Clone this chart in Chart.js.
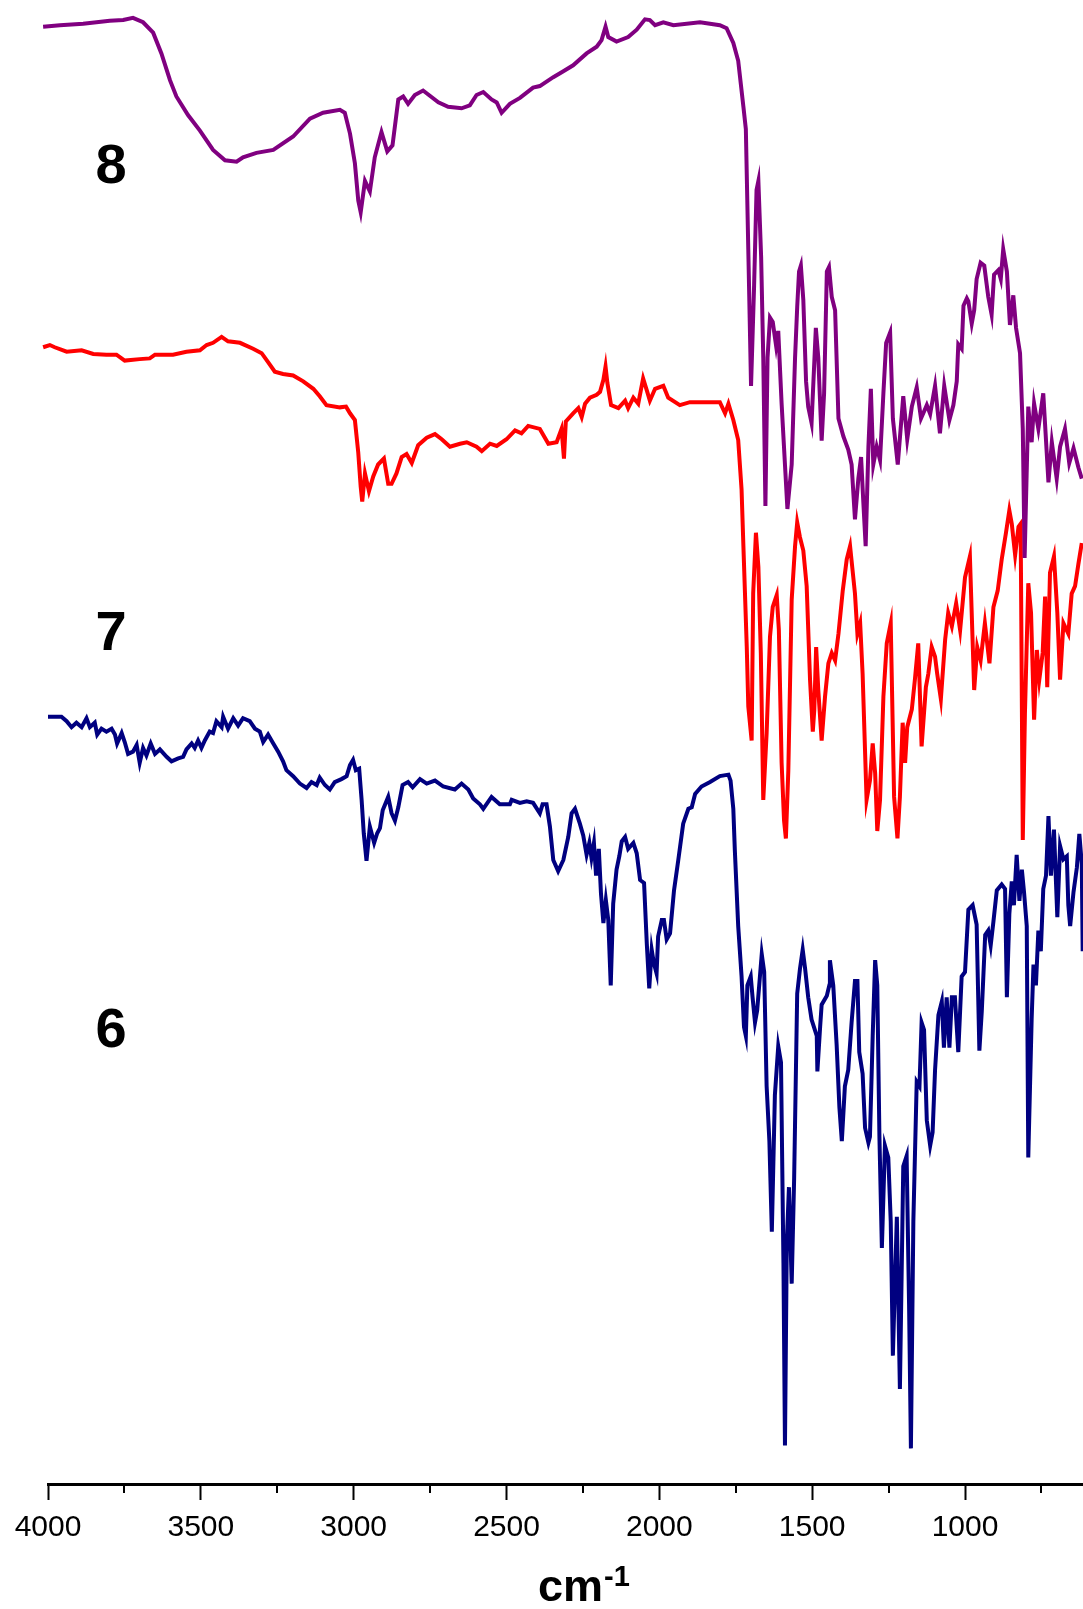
<!DOCTYPE html>
<html>
<head>
<meta charset="utf-8">
<title>IR spectra of 6, 7 and 8</title>
<script src="https://cdn.jsdelivr.net/npm/chart.js@4.4.1/dist/chart.umd.min.js"></script>
<style>
  html, body { margin: 0; padding: 0; background: #ffffff; }
  #wrap { width: 1083px; height: 1609px; }
</style>
</head>
<body>
<div id="wrap"><canvas id="ir" width="1083" height="1609"></canvas></div>
<script>
// ---- Spectrum 8 (wavenumber in cm-1, transmittance in offset units) ----
const wn8 = [
  4016,3961,3885,3798,3754,3722,3689,3656,3629,3601,
  3580,3542,3503,3460,3421,3383,3362,3318,3263,3198,
  3143,3100,3045,3029,3012,2996,2985,2977,2963,2947,
  2931,2909,2890,2873,2854,2838,2822,2800,2773,2723,
  2691,2647,2620,2598,2576,2549,2532,2516,2489,2456,
  2413,2391,2347,2314,2282,2238,2205,2189,2176,2167,
  2140,2102,2074,2047,2031,2014,1987,1954,1867,1802,
  1780,1758,1742,1725,1717,1709,1700,1690,1682,1676,
  1667,1660,1653,1646,1638,1629,1618,1611,1600,1581,
  1567,1556,1549,1543,1537,1529,1520,1513,1502,1488,
  1480,1469,1461,1452,1445,1436,1425,1414,1398,1382,
  1371,1360,1349,1340,1333,1325,1316,1308,1300,1289,
  1278,1267,1258,1245,1236,1220,1202,1189,1174,1158,
  1144,1125,1114,1098,1082,1068,1051,1038,1027,1022,
  1011,1005,994,989,978,970,962,949,937,924,
  913,905,891,883,875,863,853,842,833,820,
  811,805,793,782,774,760,744,727,716,700,
  689,673,659,645,629,618
];
const t8 = [
  98.2,98.3,98.4,98.6,98.65,98.8,98.5,97.8,96.4,94.6,
  93.5,92.25,91.2,89.9,89.2,89.1,89.4,89.7,89.9,90.8,
  92.0,92.4,92.6,92.4,91.0,89.0,86.5,85.7,87.8,87.1,
  89.4,91.1,89.8,90.2,93.3,93.5,93.0,93.6,93.9,93.1,
  92.8,92.7,92.9,93.6,93.8,93.3,93.1,92.4,93.0,93.4,
  94.1,94.2,94.8,95.2,95.6,96.4,96.85,97.3,98.2,97.5,
  97.2,97.5,98.0,98.7,98.65,98.3,98.5,98.3,98.5,98.3,
  98.1,97.1,95.9,92.8,91.3,83.2,74.0,80.75,87.2,87.8,
  82.7,75.9,65.9,75.9,78.6,78.3,76.7,77.7,72.8,65.7,
  68.7,75.9,79.3,81.7,82.1,79.8,74.3,72.6,71.5,77.9,
  75.9,70.3,73.5,81.7,82.0,80.0,79.1,71.8,70.6,69.7,
  68.7,65.0,67.75,69.2,66.3,63.2,69.9,73.8,68.7,69.9,
  69.0,73.5,76.9,77.6,71.8,68.7,73.3,70.4,72.6,73.9,
  71.8,72.7,72.1,74.0,70.8,74.0,71.7,72.7,74.3,76.8,
  76.5,79.4,79.9,79.7,78.2,79.1,81.2,82.3,82.1,80.0,
  78.8,81.5,81.8,81.2,83.2,81.7,78.1,80.1,77.9,76.2,
  71.1,62.4,72.6,70.2,72.8,71.1,73.5,67.5,70.2,67.75,
  69.9,71.1,68.8,69.8,68.5,67.75
];

// ---- Spectrum 7 ----
const wn7 = [
  4016,3994,3978,3939,3890,3852,3809,3776,3749,3700,
  3667,3650,3591,3547,3503,3481,3460,3432,3411,3372,
  3329,3301,3280,3258,3231,3198,3165,3132,3111,3089,
  3045,3025,3012,2996,2985,2977,2972,2963,2950,2936,
  2920,2901,2887,2876,2860,2843,2827,2810,2789,2761,
  2734,2712,2685,2652,2630,2598,2581,2554,2532,2500,
  2472,2451,2429,2391,2363,2336,2320,2312,2306,2282,
  2265,2254,2243,2227,2205,2194,2183,2176,2170,2158,
  2134,2112,2102,2085,2069,2053,2041,2031,2014,1987,
  1971,1933,1900,1856,1802,1785,1774,1758,1742,1731,
  1725,1714,1709,1698,1693,1684,1676,1668,1660,1649,
  1638,1629,1616,1609,1600,1592,1586,1578,1567,1556,
  1549,1540,1529,1518,1507,1498,1493,1487,1480,1469,
  1458,1447,1436,1425,1414,1400,1387,1376,1360,1352,
  1343,1335,1322,1311,1302,1294,1287,1278,1267,1256,
  1243,1232,1221,1213,1204,1196,1189,1174,1164,1153,
  1142,1128,1120,1109,1098,1091,1079,1065,1055,1043,
  1029,1016,1000,984,970,960,949,935,920,907,
  893,880,866,855,847,836,825,818,811,804,
  793,784,774,765,757,746,738,731,722,709,
  698,689,678,662,651,640,629,618
];
const t7 = [
  76.6,76.75,76.6,76.3,76.4,76.15,76.1,76.1,75.7,75.8,
  75.85,76.1,76.1,76.3,76.4,76.75,76.9,77.3,77.0,76.9,
  76.5,76.2,75.6,74.95,74.8,74.7,74.3,73.8,73.3,72.7,
  72.55,72.6,72.15,71.7,69.5,67.2,66.2,68.1,66.9,67.9,
  68.7,69.1,67.4,67.4,68.1,69.2,69.4,68.8,70.0,70.5,
  70.75,70.4,69.9,70.1,70.2,69.9,69.6,70.1,69.95,70.4,
  71.0,70.8,71.3,71.1,70.1,70.2,71.1,69.1,71.6,72.15,
  72.5,71.9,72.8,73.2,73.4,73.6,74.4,75.3,74.2,72.7,
  72.5,73.0,72.5,73.2,72.8,74.5,73.7,73.0,73.8,74.0,
  73.2,72.7,72.9,72.9,72.9,72.15,72.8,71.7,70.35,67.0,
  63.2,56.4,52.4,50.1,60.0,64.1,61.8,56.0,46.1,50.6,
  57.1,59.1,59.9,57.55,48.6,44.7,43.5,48.1,59.6,63.2,
  64.8,63.8,62.9,60.5,54.2,50.7,52.2,56.4,53.5,50.1,
  53.05,55.3,56.0,55.5,57.3,60.2,62.3,63.2,60.0,57.3,
  58.0,54.6,46.1,47.4,49.9,47.9,44.0,46.1,53.05,56.65,
  58.0,46.3,43.5,46.3,51.3,48.6,51.0,52.2,54.2,56.65,
  49.7,53.7,54.6,56.4,55.75,54.6,52.9,56.9,58.7,57.8,
  59.35,57.55,61.1,62.5,53.5,56.4,55.5,58.0,55.3,59.1,
  60.2,62.3,64.1,65.6,64.7,62.6,64.5,64.7,43.4,51.9,
  60.7,58.7,51.5,56.2,54.2,56.0,59.8,53.7,61.4,62.5,
  58.7,54.2,58.0,57.3,60.0,60.5,62.0,63.4
];

// ---- Spectrum 6 ----
const wn6 = [
  4000,3956,3939,3923,3907,3890,3874,3863,3847,3839,
  3825,3809,3792,3781,3774,3759,3749,3738,3722,3710,
  3700,3689,3678,3664,3650,3634,3612,3596,3574,3558,
  3547,3530,3520,3509,3498,3487,3471,3460,3449,3432,
  3427,3411,3394,3378,3362,3340,3323,3307,3296,3280,
  3263,3247,3231,3220,3198,3176,3154,3138,3121,3111,
  3094,3078,3062,3040,3023,3012,3002,2993,2982,2974,
  2967,2958,2947,2933,2923,2914,2905,2887,2876,2865,
  2854,2840,2822,2807,2783,2761,2734,2707,2669,2647,
  2625,2609,2587,2576,2549,2522,2489,2483,2456,2434,
  2413,2391,2382,2369,2358,2347,2331,2314,2298,2287,
  2276,2260,2249,2238,2229,2222,2214,2207,2198,2191,
  2183,2175,2167,2159,2151,2140,2131,2123,2112,2102,
  2085,2074,2063,2050,2041,2033,2025,2018,2009,2004,
  1992,1985,1976,1965,1952,1938,1922,1905,1894,1883,
  1862,1834,1802,1774,1767,1758,1753,1742,1731,1723,
  1717,1712,1701,1695,1687,1680,1665,1657,1649,1640,
  1632,1622,1611,1602,1594,1589,1583,1576,1567,1559,
  1549,1540,1531,1523,1513,1502,1485,1483,1474,1469,
  1452,1444,1442,1431,1420,1411,1403,1393,1382,1371,
  1360,1352,1346,1335,1327,1316,1311,1302,1294,1287,
  1280,1272,1262,1251,1243,1236,1223,1213,1202,1191,
  1183,1177,1169,1158,1149,1142,1134,1125,1114,1106,
  1098,1087,1076,1069,1060,1051,1043,1033,1022,1011,
  1000,989,975,962,953,945,934,924,916,907,
  896,880,869,863,855,847,840,831,822,814,
  807,798,793,782,776,768,760,752,744,735,
  727,719,709,698,689,678,667,662,656,645,
  634,626,618,615
];
const t6 = [
  51.7,51.7,51.4,51.0,51.3,51.0,51.6,51.0,51.3,50.5,
  50.9,50.7,50.9,50.5,49.9,50.6,50.0,49.2,49.35,49.8,
  48.6,49.6,49.1,49.9,49.2,49.5,49.0,48.7,48.9,49.0,
  49.5,49.9,49.6,50.1,49.6,50.1,50.7,50.6,51.4,51.0,
  51.7,50.9,51.6,51.1,51.6,51.4,50.9,50.7,50.0,50.5,
  49.9,49.35,48.7,48.1,47.7,47.2,46.9,47.3,47.1,47.6,
  47.1,46.8,47.3,47.5,47.7,48.45,48.8,48.1,48.2,46.1,
  43.85,42.0,44.3,43.2,43.85,44.2,45.4,46.3,45.2,44.7,
  45.6,47.1,47.3,46.95,47.5,47.2,47.4,47.0,46.8,47.2,
  46.8,46.2,45.8,45.5,46.3,45.8,45.8,46.1,45.9,46.0,
  45.9,45.2,45.8,45.8,44.3,42.05,41.3,42.05,43.6,45.2,
  45.5,44.5,43.7,42.4,43.2,42.2,43.2,41.0,42.8,39.8,
  37.8,39.35,38.0,33.6,39.1,41.4,42.3,43.3,43.6,42.8,
  43.2,42.5,40.7,40.5,36.4,33.4,36.0,35.1,34.4,36.9,
  38.0,38.0,36.7,37.1,40.0,42.05,44.5,45.5,45.6,46.5,
  47.0,47.3,47.7,47.8,47.4,45.5,42.7,37.6,34.2,30.8,
  30.2,33.6,34.2,32.8,31.1,31.9,35.7,34.5,26.8,23.1,
  17.0,26.2,29.5,28.4,14.9,2.6,16.3,20.0,13.5,20.6,
  33.05,34.7,36.0,34.7,32.8,31.3,30.2,27.8,30.8,32.3,
  32.9,33.6,35.3,33.6,29.6,25.4,23.1,26.8,27.9,31.1,
  33.9,33.9,29.1,27.65,24.0,23.0,23.4,30.2,35.3,33.6,
  23.4,15.9,22.8,22.0,17.7,8.65,18.0,6.4,21.4,22.1,
  12.1,2.4,17.7,27.1,26.8,31.1,30.6,24.5,22.8,23.7,
  27.9,31.6,32.5,29.4,32.8,29.4,32.8,32.8,29.1,34.2,
  34.5,38.7,39.0,37.7,29.2,31.9,37.0,37.3,36.3,37.9,
  40.0,40.4,40.1,32.8,38.4,40.6,39.0,42.4,39.3,41.4,
  39.9,37.6,22.0,31.3,35.0,33.6,37.3,35.9,40.1,41.0,
  45.0,41.0,44.1,38.2,43.0,42.1,42.3,39.0,37.6,39.9,
  41.55,43.8,41.8,35.9
];

// ---- Axis ticks and sample names ----
const majorTicks = [4000, 3500, 3000, 2500, 2000, 1500, 1000];
const minorTicks = [3750, 3250, 2750, 2250, 1750, 1250, 750];
const sampleNames = ['8', '7', '6'];

// Where each sample name sits, in axis units (wavenumber, offset transmittance)
const nameAnchors = { wn: 3794, t: [87.7, 56.2, 29.45] };

const FONT = '"Liberation Sans", Arial, Helvetica, sans-serif';

function toPoints(xs, ys) {
  return xs.map((x, i) => ({ x: x, y: ys[i] }));
}

// Short minor ticks between the labelled ones
const minorTickPlugin = {
  id: 'minorTicks',
  afterDraw(chart) {
    const sx = chart.scales.x;
    const ctx = chart.ctx;
    ctx.save();
    ctx.strokeStyle = '#000000';
    ctx.lineWidth = 2;
    minorTicks.forEach(v => {
      const px = Math.round(sx.getPixelForValue(v));
      ctx.beginPath();
      ctx.moveTo(px, sx.top);
      ctx.lineTo(px, sx.top + 9);
      ctx.stroke();
    });
    ctx.restore();
  }
};

// Bold sample numbers beside each trace
const sampleNamePlugin = {
  id: 'sampleNames',
  afterDatasetsDraw(chart) {
    const sx = chart.scales.x, sy = chart.scales.y;
    const ctx = chart.ctx;
    ctx.save();
    ctx.fillStyle = '#000000';
    ctx.font = 'bold 56px ' + FONT;
    ctx.textAlign = 'center';
    ctx.textBaseline = 'alphabetic';
    sampleNames.forEach((name, i) => {
      ctx.fillText(name, sx.getPixelForValue(nameAnchors.wn), sy.getPixelForValue(nameAnchors.t[i]));
    });
    ctx.restore();
  }
};

// Axis title "cm-1" with a raised exponent
const axisTitlePlugin = {
  id: 'axisTitle',
  afterDraw(chart) {
    const area = chart.chartArea;
    const ctx = chart.ctx;
    ctx.save();
    ctx.fillStyle = '#000000';
    ctx.textBaseline = 'alphabetic';
    ctx.textAlign = 'left';
    ctx.font = 'bold 45px ' + FONT;
    const base = 'cm';
    const w = ctx.measureText(base).width;
    const cx = (area.left + area.right) / 2 + 5;
    const x0 = cx - w / 2;
    const yBase = area.bottom + 117;
    ctx.fillText(base, x0, yBase);
    ctx.font = 'bold 29px ' + FONT;
    ctx.fillText('-1', x0 + w + 1, yBase - 15);
    ctx.restore();
  }
};

const traceStyle = { borderWidth: 4, pointRadius: 0, pointHoverRadius: 0, tension: 0, fill: false, clip: false };

new Chart(document.getElementById('ir'), {
  type: 'line',
  data: {
    datasets: [
      Object.assign({ label: '8', data: toPoints(wn8, t8), borderColor: '#800080' }, traceStyle),
      Object.assign({ label: '7', data: toPoints(wn7, t7), borderColor: '#FF0000' }, traceStyle),
      Object.assign({ label: '6', data: toPoints(wn6, t6), borderColor: '#000080' }, traceStyle)
    ]
  },
  options: {
    responsive: false,
    animation: false,
    devicePixelRatio: 1,
    parsing: false,
    events: [],
    layout: { padding: { left: 48, right: 0, top: 0, bottom: 53 } },
    plugins: { legend: { display: false }, tooltip: { enabled: false }, title: { display: false } },
    scales: {
      x: {
        type: 'linear',
        reverse: true,
        min: 614,
        max: 4000,
        afterBuildTicks: scale => { scale.ticks = majorTicks.map(v => ({ value: v })); },
        border: { display: true, color: '#000000', width: 3 },
        grid: { drawOnChartArea: false, drawTicks: true, tickLength: 16, tickWidth: 2, tickColor: '#000000' },
        ticks: {
          color: '#000000',
          font: { family: FONT, size: 30 },
          padding: 10,
          maxRotation: 0,
          autoSkip: false,
          callback: v => String(v)
        }
      },
      y: { display: false, min: 0, max: 100 }
    }
  },
  plugins: [minorTickPlugin, sampleNamePlugin, axisTitlePlugin]
});
</script>
</body>
</html>
